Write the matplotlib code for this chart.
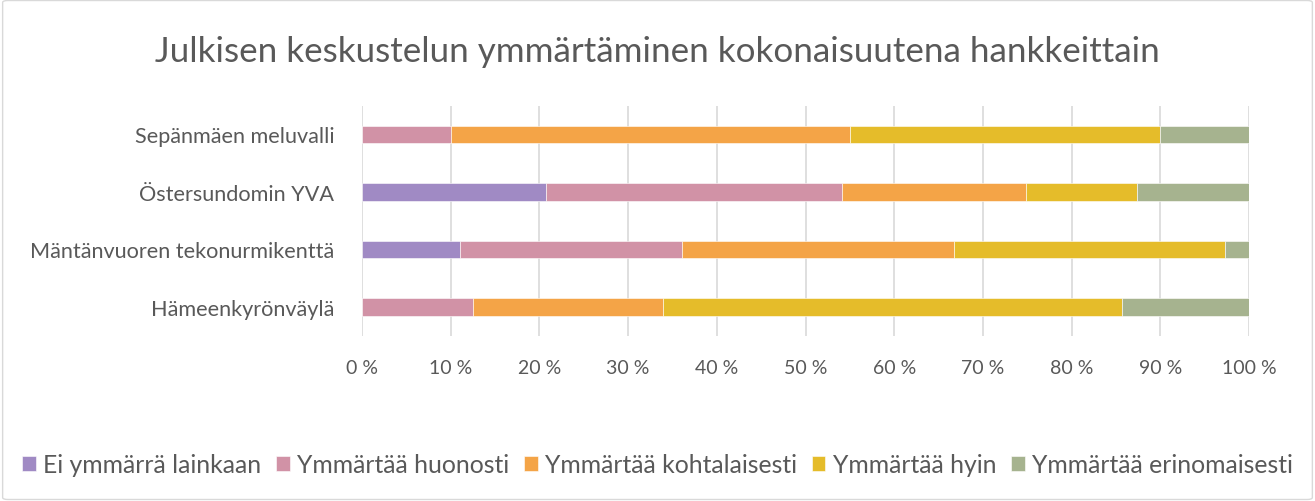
import numpy as np
import matplotlib.pyplot as plt
from matplotlib.patches import FancyBboxPatch

plt.rcParams['font.family'] = ['Lato', 'DejaVu Sans']

hankkeet = ['Sepänmäen meluvalli', 'Östersundomin YVA',
            'Mäntänvuoren tekonurmikenttä', 'Hämeenkyrönväylä']
luokat = ['Ei ymmärrä lainkaan', 'Ymmärtää huonosti', 'Ymmärtää kohtalaisesti',
          'Ymmärtää hyin', 'Ymmärtää erinomaisesti']
# osuudet prosentteina, rivit = hankkeet
ei_lainkaan = [0.0, 20.8, 11.1, 0.0]
huonosti = [10.0, 33.3, 25.0, 12.5]
kohtalaisesti = [45.0, 20.8, 30.6, 21.4]
hyvin = [35.0, 12.5, 30.6, 51.8]
erinomaisesti = [10.0, 12.6, 2.7, 14.3]
varit = ['#A08AC4', '#D192A6', '#F4A447', '#E5BC2A', '#A6B38F']
tick_labels = ['%d %%' % v for v in range(0, 101, 10)]

sarjat = [ei_lainkaan, huonosti, kohtalaisesti, hyvin, erinomaisesti]

fig = plt.figure(figsize=(13.15, 5.02), dpi=100)
ax = fig.add_axes([362/1315, 1-336.75/502, 887/1315, 230/502])

y = np.arange(len(hankkeet))
vasen = np.zeros(len(hankkeet))
for s, nimi, vari in zip(sarjat, luokat, varit):
    ax.barh(y, s, left=vasen, height=0.31, color=vari, label=nimi,
            edgecolor='white', linewidth=0.4, zorder=3)
    vasen += np.array(s)

ax.set_xlim(0, 100)
ax.set_ylim(3.5, -0.5)
ax.set_yticks(y)
ax.set_yticklabels(hankkeet, fontsize=15.6, color='#595959')
ax.set_xticks(range(0, 101, 10))
ax.set_xticklabels(tick_labels, fontsize=14, color='#595959')
ax.tick_params(length=0, pad=20, axis='y')
ax.tick_params(length=0, pad=17, axis='x')
ax.grid(axis='x', color='#d9d9d9', linewidth=1.2, zorder=0)
for sp in ax.spines.values():
    sp.set_visible(False)

fig.text(0.5, 1-52/502, 'Julkisen keskustelun ymmärtäminen kokonaisuutena hankkeittain',
         ha='center', va='center', fontsize=25.2, color='#595959')

fig.legend(loc='center', bbox_to_anchor=(0.5, 1-466/502), ncol=5, frameon=False,
           fontsize=17.8, labelcolor='#595959', handlelength=0.55, handleheight=0.55,
           handletextpad=0.3, columnspacing=0.6)

kehys = FancyBboxPatch((0.002, 0.003), 0.996, 0.994, boxstyle='round,pad=0,rounding_size=0.004',
                       transform=fig.transFigure, fill=False, edgecolor='#d9d9d9', linewidth=1)
fig.patches.append(kehys)

fig.savefig('out.png', dpi=100)
